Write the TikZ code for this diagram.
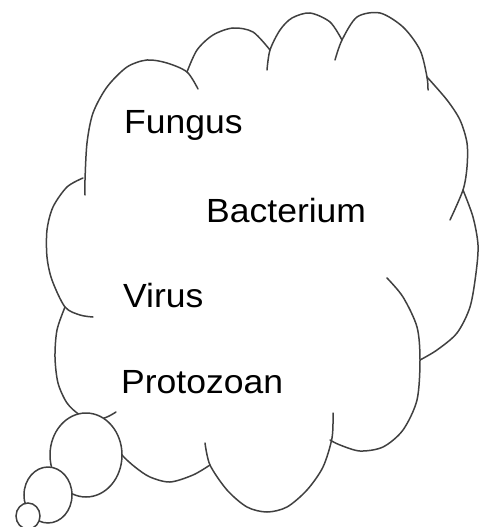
\documentclass[tikz,border=0pt]{standalone}
\usepackage{fontspec}
\setmainfont{Liberation Sans}
\newfontfamily\labelfont[FakeStretch=1.06]{Liberation Sans}

\begin{document}
\begin{tikzpicture}[x=1pt, y=-1pt,
    puff/.style={draw=black!75, line width=1.5pt, line cap=round},
    bubble/.style={draw=black!75, line width=1.5pt, fill=white},
    word/.style={anchor=base west, inner sep=0pt, font=\labelfont\fontsize{33.5}{40}\selectfont}
]
\useasboundingbox (0,0) rectangle (487,527);

% cloud outline, one arc per puff
\draw[puff] plot[smooth] coordinates {(85,195) (85,180) (87,143) (93,113) (107,87) (127,67) (147,60) (167,63) (187,72) (198,89)};
\draw[puff] plot[smooth] coordinates {(187,72) (197,50) (213,35) (233,28) (253,32) (270,50)};
\draw[puff] plot[smooth] coordinates {(267,70) (270,50) (280,30) (292,18) (310,13) (330,22) (342,40)};
\draw[puff] plot[smooth] coordinates {(335,60) (342,40) (357,17) (380,13) (403,27) (420,50) (427,77) (428,90)};
\draw[puff] plot[smooth] coordinates {(427,77) (447,100) (460,120) (467,143) (467,167) (463,190) (450,220)};
\draw[puff] plot[smooth] coordinates {(463,190) (473,217) (478,245) (476,273) (470,307) (457,333) (437,350) (420,360)};
\draw[puff] plot[smooth] coordinates {(387,278) (403,297) (417,327) (420,360) (417,400) (403,430) (383,447) (360,451) (340,445) (330,440)};
\draw[puff] plot[smooth] coordinates {(333,413) (332,438) (323,467) (307,490) (287,507) (267,512) (247,507) (227,490) (210,465) (205,443)};
\draw[puff] plot[smooth] coordinates {(210,465) (193,475) (170,482) (150,477) (135,467) (122,455) (112,440)};
\draw[puff] plot[smooth] coordinates {(65,307) (57,330) (55,357) (58,383) (67,403) (80,415) (95,420) (107,417) (116,412)};
\draw[puff] plot[smooth] coordinates {(93,317) (80,315) (65,307) (52,280) (47,257) (47,230) (53,207) (67,187) (83,178)};

% thought bubbles
\draw[bubble] (86,455) ellipse [x radius=36pt, y radius=42pt];
\draw[bubble] (48,495) ellipse [x radius=24pt, y radius=28pt];
\draw[bubble] (28,516) ellipse [x radius=12pt, y radius=13pt];

\node[word] (fungus) at (124,133) {Fungus};
\node[word] (bacterium) at (206,222) {Bacterium};
\node[word] (virus) at (123,307) {Virus};
\node[word] (protozoan) at (121,393) {Protozoan};
\end{tikzpicture}
\end{document}
